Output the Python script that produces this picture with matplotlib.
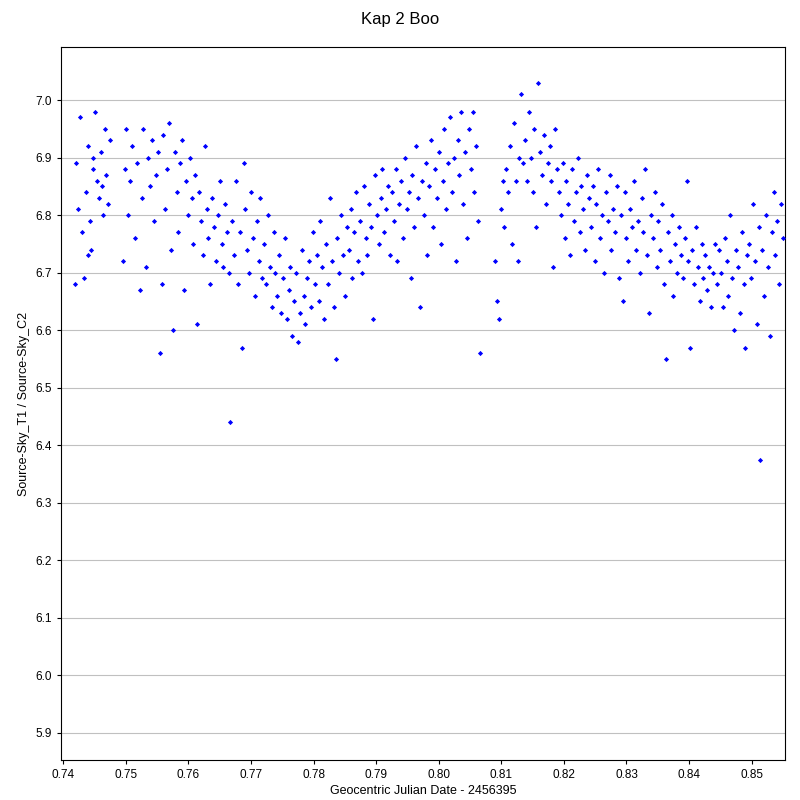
import matplotlib
matplotlib.use("Agg")
import matplotlib.pyplot as plt
import numpy as np

plt.rcParams['font.family'] = ['Liberation Sans', 'DejaVu Sans']

seg_a = [(0.7418,6.68),(0.7421,6.89),(0.7424,6.81),(0.7427,6.97),(0.7430,6.77),(0.7433,6.69),(0.7436,6.84),(0.7439,6.92),(0.7442,6.79),(0.7445,6.74),(0.7448,6.88),(0.7451,6.98),(0.7454,6.86),(0.7457,6.83),(0.7460,6.91),(0.7463,6.80),(0.7466,6.95),(0.7469,6.87),(0.7472,6.82),(0.7475,6.93),(0.7440,6.73),(0.7447,6.90),(0.7462,6.85)]
seg_b = [(0.7495,6.72),(0.7498,6.88),(0.7500,6.95),(0.7503,6.80),(0.7506,6.86),(0.7510,6.92),(0.7514,6.76),(0.7518,6.89),(0.7522,6.67),(0.7525,6.83),(0.7528,6.95),(0.7532,6.71),(0.7535,6.90),(0.7538,6.85),(0.7542,6.93),(0.7545,6.79),(0.7548,6.87),(0.7552,6.91),(0.7555,6.56),(0.7557,6.68)]
seg_c = [(0.7560,6.94),(0.7563,6.81),(0.7566,6.88),(0.7569,6.96),(0.7572,6.74),(0.7575,6.60),(0.7578,6.91),(0.7581,6.84),(0.7584,6.77),(0.7587,6.89),(0.7590,6.93),(0.7593,6.67),(0.7596,6.86),(0.7599,6.80),(0.7602,6.90),(0.7605,6.83),(0.7608,6.75),(0.7611,6.87),(0.7613,6.61)]
seg_d = [(0.7617,6.84),(0.7620,6.79),(0.7623,6.73),(0.7626,6.92),(0.7629,6.81),(0.7632,6.76),(0.7635,6.68),(0.7638,6.83),(0.7641,6.78),(0.7644,6.72),(0.7647,6.80),(0.7650,6.86),(0.7653,6.75),(0.7656,6.71),(0.7659,6.82),(0.7662,6.77),(0.7665,6.70),(0.7667,6.44)]
seg_e = [(0.7670,6.79),(0.7673,6.73),(0.7676,6.86),(0.7679,6.68),(0.7682,6.77),(0.7685,6.57),(0.7688,6.89),(0.7691,6.81),(0.7694,6.74),(0.7697,6.70),(0.7700,6.84),(0.7703,6.76),(0.7706,6.66),(0.7709,6.79),(0.7712,6.72),(0.7715,6.83),(0.7718,6.69)]
seg_f = [(0.7721,6.75),(0.7724,6.68),(0.7727,6.80),(0.7730,6.71),(0.7733,6.64),(0.7736,6.77),(0.7739,6.70),(0.7742,6.66),(0.7745,6.73),(0.7748,6.63),(0.7751,6.69),(0.7754,6.76),(0.7757,6.62),(0.7760,6.67),(0.7763,6.71),(0.7766,6.59),(0.7769,6.65)]
seg_g = [(0.7772,6.70),(0.7775,6.58),(0.7778,6.63),(0.7781,6.74),(0.7784,6.66),(0.7787,6.61),(0.7790,6.69),(0.7793,6.72),(0.7796,6.64),(0.7799,6.77),(0.7802,6.68),(0.7805,6.73),(0.7808,6.65),(0.7811,6.79),(0.7814,6.71),(0.7817,6.62),(0.7820,6.75)]
seg_h = [(0.7823,6.68),(0.7826,6.83),(0.7829,6.72),(0.7832,6.64),(0.7835,6.55),(0.7838,6.76),(0.7841,6.70),(0.7844,6.80),(0.7847,6.73),(0.7850,6.66),(0.7853,6.78),(0.7856,6.74),(0.7859,6.81),(0.7862,6.69),(0.7865,6.77),(0.7868,6.84),(0.7871,6.72)]
seg_i = [(0.7874,6.79),(0.7877,6.70),(0.7880,6.85),(0.7883,6.76),(0.7886,6.73),(0.7889,6.82),(0.7892,6.78),(0.7895,6.62),(0.7898,6.87),(0.7901,6.80),(0.7904,6.75),(0.7907,6.83),(0.7910,6.88),(0.7913,6.77),(0.7916,6.81),(0.7919,6.85),(0.7922,6.73)]
seg_j = [(0.7925,6.84),(0.7928,6.79),(0.7931,6.88),(0.7934,6.72),(0.7937,6.82),(0.7940,6.86),(0.7943,6.76),(0.7946,6.90),(0.7949,6.81),(0.7952,6.84),(0.7955,6.69),(0.7958,6.87),(0.7961,6.78),(0.7964,6.92),(0.7967,6.83),(0.7970,6.64),(0.7973,6.86)]
seg_k = [(0.7976,6.80),(0.7979,6.89),(0.7982,6.73),(0.7985,6.85),(0.7988,6.93),(0.7991,6.78),(0.7994,6.88),(0.7997,6.83),(0.8000,6.91),(0.8003,6.75),(0.8006,6.86),(0.8009,6.95),(0.8012,6.81),(0.8015,6.89),(0.8018,6.97),(0.8021,6.84),(0.8024,6.90)]
seg_l = [(0.8027,6.72),(0.8030,6.93),(0.8033,6.87),(0.8036,6.98),(0.8039,6.82),(0.8042,6.91),(0.8045,6.76),(0.8048,6.95),(0.8051,6.88),(0.8054,6.98),(0.8057,6.84),(0.8060,6.92),(0.8063,6.79),(0.8066,6.56)]
seg_m = [(0.8090,6.72),(0.8093,6.65),(0.8096,6.62),(0.8099,6.81),(0.8102,6.86),(0.8105,6.78),(0.8108,6.88),(0.8111,6.84),(0.8114,6.92),(0.8117,6.75),(0.8120,6.96),(0.8123,6.86),(0.8126,6.72),(0.8129,6.90),(0.8132,7.01),(0.8135,6.89)]
seg_n = [(0.8138,6.93),(0.8141,6.86),(0.8144,6.98),(0.8147,6.90),(0.8150,6.84),(0.8153,6.95),(0.8156,6.78),(0.8159,7.03),(0.8162,6.91),(0.8165,6.87),(0.8168,6.94),(0.8171,6.82),(0.8174,6.89),(0.8177,6.92),(0.8180,6.86),(0.8183,6.71),(0.8186,6.95),(0.8189,6.88)]
seg_o = [(0.8192,6.84),(0.8195,6.80),(0.8198,6.89),(0.8201,6.76),(0.8204,6.86),(0.8207,6.82),(0.8210,6.73),(0.8213,6.88),(0.8216,6.79),(0.8219,6.84),(0.8222,6.90),(0.8225,6.77),(0.8228,6.85),(0.8231,6.81),(0.8234,6.74),(0.8237,6.87),(0.8240,6.83)]
seg_p = [(0.8243,6.78),(0.8246,6.85),(0.8249,6.72),(0.8252,6.82),(0.8255,6.88),(0.8258,6.76),(0.8261,6.80),(0.8264,6.70),(0.8267,6.84),(0.8270,6.79),(0.8273,6.87),(0.8276,6.74),(0.8279,6.81),(0.8282,6.77),(0.8285,6.85),(0.8288,6.69)]
seg_q = [(0.8291,6.80),(0.8294,6.65),(0.8297,6.84),(0.8300,6.76),(0.8303,6.72),(0.8306,6.81),(0.8309,6.78),(0.8312,6.86),(0.8315,6.74),(0.8318,6.79),(0.8321,6.70),(0.8324,6.83),(0.8327,6.77),(0.8330,6.88),(0.8333,6.73),(0.8336,6.63),(0.8339,6.80)]
seg_r = [(0.8342,6.76),(0.8345,6.84),(0.8348,6.71),(0.8351,6.79),(0.8354,6.74),(0.8357,6.82),(0.8360,6.68),(0.8363,6.55),(0.8366,6.77),(0.8369,6.72),(0.8372,6.80),(0.8375,6.66),(0.8378,6.75),(0.8381,6.70),(0.8384,6.78),(0.8387,6.73)]
seg_s = [(0.8390,6.69),(0.8393,6.76),(0.8396,6.86),(0.8399,6.72),(0.8402,6.57),(0.8405,6.74),(0.8408,6.68),(0.8411,6.78),(0.8414,6.71),(0.8417,6.65),(0.8420,6.75),(0.8423,6.69),(0.8426,6.73),(0.8429,6.67),(0.8432,6.71),(0.8435,6.64),(0.8438,6.70),(0.8441,6.75)]
seg_t = [(0.8445,6.68),(0.8448,6.74),(0.8451,6.70),(0.8454,6.64),(0.8457,6.76),(0.8460,6.72),(0.8463,6.66),(0.8466,6.80),(0.8469,6.69),(0.8472,6.60),(0.8475,6.74),(0.8478,6.71),(0.8481,6.63),(0.8484,6.77),(0.8487,6.68),(0.8490,6.57),(0.8493,6.73)]
seg_u = [(0.8496,6.75),(0.8499,6.69),(0.8502,6.82),(0.8505,6.72),(0.8508,6.61),(0.8511,6.78),(0.8514,6.375),(0.8517,6.74),(0.8520,6.66),(0.8523,6.80),(0.8526,6.71),(0.8529,6.59),(0.8532,6.77),(0.8535,6.84),(0.8538,6.73),(0.8541,6.79),(0.8544,6.68),(0.8547,6.82),(0.8550,6.76)]

segments = [seg_a, seg_b, seg_c, seg_d, seg_e, seg_f, seg_g, seg_h, seg_i, seg_j, seg_k,
            seg_l, seg_m, seg_n, seg_o, seg_p, seg_q, seg_r, seg_s, seg_t, seg_u]
pts = np.array([p for s in segments for p in s])
jd = pts[:, 0]
ratio = pts[:, 1]

xticks = [0.74, 0.75, 0.76, 0.77, 0.78, 0.79, 0.80, 0.81, 0.82, 0.83, 0.84, 0.85]
yticks = [5.9, 6.0, 6.1, 6.2, 6.3, 6.4, 6.5, 6.6, 6.7, 6.8, 6.9, 7.0]

fig = plt.figure(figsize=(8, 8), dpi=100)
ax = fig.add_axes([0.076, 0.05, 0.905, 0.891])
ax.scatter(jd, ratio, s=7, marker='D', color='#0000ff', linewidths=0, zorder=3)
ax.set_xlim(0.7396, 0.8553)
ax.set_ylim(5.853, 7.092)
ax.set_xticks(xticks)
ax.set_xticklabels([f"{v:.2f}" for v in xticks])
ax.set_yticks(yticks)
ax.set_yticklabels([f"{v:.1f}" for v in yticks])
ax.grid(axis='y', color='#c0c0c0', linewidth=0.8)
ax.set_axisbelow(True)
ax.tick_params(labelsize=8.5, length=3)
ax.set_xlabel("Geocentric Julian Date - 2456395", fontsize=9, labelpad=3)
ax.set_ylabel("Source-Sky_T1 / Source-Sky_C2", fontsize=9)
fig.suptitle("Kap 2 Boo", y=0.985, fontsize=12)
fig.savefig("out.png", dpi=100)
